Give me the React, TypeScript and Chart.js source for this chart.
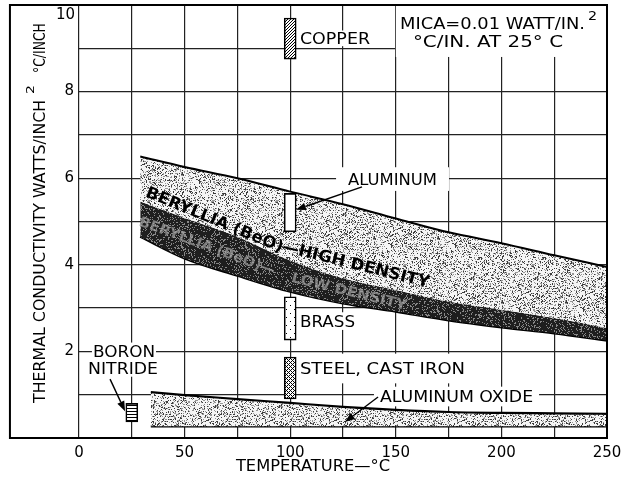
import React, { useEffect, useRef } from 'react';
import { Chart, registerables } from 'chart.js';

Chart.register(...registerables);

// ---------------- data ----------------
const beoTemps = [29, 50, 75, 100, 125, 150, 175, 200, 225, 250];
const beoHighTop = [6.5, 6.26, 6.0, 5.69, 5.4, 5.07, 4.75, 4.5, 4.22, 3.95];
const beoLowTop = [5.46, 5.08, 4.65, 4.1, 3.69, 3.42, 3.15, 2.96, 2.77, 2.54];
const beoLowBottom = [4.65, 4.15, 3.75, 3.38, 3.11, 2.92, 2.72, 2.56, 2.42, 2.25];

const aloxTemps = [34, 50, 75, 100, 125, 150, 175, 200, 225, 250];
const aloxTop = [1.06, 0.99, 0.9, 0.81, 0.72, 0.65, 0.6, 0.58, 0.57, 0.56];
const aloxBottom = [0.27, 0.27, 0.27, 0.27, 0.27, 0.27, 0.27, 0.27, 0.27, 0.27];

const metalNames = ['COPPER', 'ALUMINUM', 'BRASS', 'STEEL, CAST IRON', 'BORON NITRIDE'];
const metalTemps = [100, 100, 100, 100, 25];
const metalLow = [8.75, 4.76, 2.26, 0.9, 0.37];
const metalHigh = [9.7, 5.65, 3.26, 1.87, 0.8];
const metalFills = ['hatch', 'plain', 'dots', 'cross', 'stripes'];

const xMin = 0;
const xMax = 250;
const xStep = 25;
const xLabelStep = 50;
const yMin = 0;
const yMax = 10;
const yStep = 1;
const yLabelStep = 2;
const frameLeft = -32.7;

// annotations (data coordinates)
const plainLabels = [
  { text: 'COPPER', x0: 104.6, x1: 137.8, y: 9.23, px: 3, py: 2, size: 16 },
  { text: 'MICA=0.01 WATT/IN.', x0: 152.0, x1: 239.6, y: 9.57, px: 0, py: 0, size: 16 },
  { text: '2', x0: 241.0, x1: 245.3, y: 9.75, px: 0, py: 0, size: 12 },
  { text: '°C/IN. AT 25° C', x0: 158.1, x1: 229.2, y: 9.16, px: 0, py: 0, size: 16 },
  { text: 'ALUMINUM', x0: 127.4, x1: 169.5, y: 5.98, px: 12, py: 6, size: 16 },
  { text: 'BRASS', x0: 104.6, x1: 130.7, y: 2.7, px: 4, py: 3, size: 16 },
  { text: 'STEEL, CAST IRON', x0: 104.6, x1: 182.8, y: 1.605, px: 4, py: 9, size: 16 },
  { text: 'ALUMINUM OXIDE', x0: 142.5, x1: 215.0, y: 0.958, px: 6, py: 4, size: 16 },
  { text: 'BORON', x0: 6.6, x1: 36.0, y: 2.0, px: 1, py: 3, size: 16 },
  { text: 'NITRIDE', x0: 4.3, x1: 37.4, y: 1.62, px: 1, py: 3, size: 16 },
];
const whiteBlock = { x0: 150, x1: 250, y0: 8.8, y1: 10 };

const bandLabels = [
  { text: 'BERYLLIA (BeO)', x: 64.4, y: 5.06, angle: 22.4, width: 147, size: 16, color: '#000' },
  { text: '—HIGH DENSITY', x: 131.2, y: 4.03, angle: 14, width: 151, size: 16, color: '#000' },
  { text: 'BERYLLIA (BeO)—', x: 60.8, y: 4.45, angle: 20.3, width: 144, size: 14, color: 'rgba(165,165,165,0.7)' },
  { text: 'LOW DENSITY', x: 128, y: 3.4, angle: 13.8, width: 118, size: 14, color: 'rgba(165,165,165,0.7)' },
];

const arrows = [
  { from: [134.0, 5.8], to: [102.7, 5.27] },
  { from: [141.6, 0.947], to: [125.9, 0.37] },
  { from: [14.7, 1.36], to: [21.8, 0.62] },
];

const xTitle = { text: 'TEMPERATURE—°C', x0: 74.3, x1: 147.3, y: -0.647 };
const yTitleX = -19;
const yTitleSupX = -23.3;
const yTitleParts = [
  { text: 'THERMAL CONDUCTIVITY WATTS/INCH', y0: 0.81, y1: 7.81, sup: false },
  { text: '2', y0: 7.945, y1: 8.15, sup: true },
  { text: '°C/INCH', y0: 8.43, y1: 9.58, sup: false },
];

const FONT = '"DejaVu Sans", sans-serif';
const CAP = 0.73;

// ---------------- helpers ----------------
function hash(x: number, y: number, s: number) {
  let h = (Math.imul(x, 374761393) + Math.imul(y, 668265263) + Math.imul(s, 1442695041)) | 0;
  h = Math.imul(h ^ (h >>> 13), 1274126177);
  h ^= h >>> 16;
  return (h >>> 0) / 4294967296;
}

function makePattern(kind: string): CanvasPattern {
  const size = kind === 'light' || kind === 'dark' ? 64 : kind === 'dots' ? 8 : kind === 'cross' ? 8 : 6;
  const c = document.createElement('canvas');
  c.width = size;
  c.height = size;
  const g = c.getContext('2d')!;
  const img = g.createImageData(size, size);
  for (let y = 0; y < size; y++) {
    for (let x = 0; x < size; x++) {
      let v = 255;
      if (kind === 'light') {
        const h = hash(x, y, 1);
        v = h < 0.14 ? 60 : h < 0.3 ? 150 : 245;
      } else if (kind === 'dark') v = hash(x, y, 2) < 0.2 ? 135 : 30;
      else if (kind === 'hatch') v = (x + y) % 3 === 0 ? 0 : 255;
      else if (kind === 'cross') v = (x + y) % 4 === 0 || (x - y + 64) % 4 === 0 ? 0 : 255;
      else if (kind === 'stripes') v = y % 3 === 0 ? 0 : 255;
      else if (kind === 'dots') v = (x === 2 && y === 1) || (x === 6 && y === 5) ? 0 : 255;
      const i = (y * size + x) * 4;
      img.data[i] = v;
      img.data[i + 1] = v;
      img.data[i + 2] = v;
      img.data[i + 3] = 255;
    }
  }
  g.putImageData(img, 0, 0);
  return g.createPattern(c, 'repeat')!;
}

function fitText(ctx: CanvasRenderingContext2D, text: string, left: number, right: number, cy: number, size: number, weight = 'normal', color = '#000') {
  ctx.save();
  ctx.font = `${weight} ${size}px ${FONT}`;
  const w = ctx.measureText(text).width;
  ctx.translate(left, cy + (size * CAP) / 2);
  ctx.scale((right - left) / w, 1);
  ctx.fillStyle = color;
  ctx.textAlign = 'left';
  ctx.textBaseline = 'alphabetic';
  ctx.fillText(text, 0, 0);
  ctx.restore();
}

function rotText(ctx: CanvasRenderingContext2D, text: string, cx: number, cy: number, ang: number, width: number, size: number, color: string) {
  ctx.save();
  ctx.font = `bold ${size}px ${FONT}`;
  const w = ctx.measureText(text).width;
  ctx.translate(cx, cy);
  ctx.rotate((ang * Math.PI) / 180);
  ctx.scale(width / w, 1);
  ctx.fillStyle = color;
  ctx.textAlign = 'center';
  ctx.textBaseline = 'alphabetic';
  ctx.fillText(text, 0, (size * CAP) / 2);
  ctx.restore();
}

const annotations = {
  id: 'annotations',
  beforeDatasetsDraw(chart: any) {
    const { ctx, scales } = chart;
    const xs = scales.x;
    const ys = scales.y;
    ctx.save();
    ctx.fillStyle = '#fff';
    for (const l of plainLabels) {
      if (l.px === 0 && l.py === 0) continue;
      const left = xs.getPixelForValue(l.x0) - l.px;
      const right = xs.getPixelForValue(l.x1) + l.px;
      const cy = ys.getPixelForValue(l.y);
      const h = (l.size * CAP) / 2 + l.py;
      ctx.fillRect(left, cy - h, right - left, 2 * h);
    }
    const bx0 = xs.getPixelForValue(whiteBlock.x0);
    const bx1 = xs.getPixelForValue(whiteBlock.x1);
    const by0 = ys.getPixelForValue(whiteBlock.y1);
    const by1 = ys.getPixelForValue(whiteBlock.y0);
    ctx.fillRect(bx0, by0, bx1 - bx0, by1 - by0);
    ctx.restore();
  },
  afterDatasetsDraw(chart: any) {
    const { ctx, scales } = chart;
    const xs = scales.x;
    const ys = scales.y;
    for (const l of plainLabels) {
      fitText(ctx, l.text, xs.getPixelForValue(l.x0), xs.getPixelForValue(l.x1), ys.getPixelForValue(l.y), l.size);
    }
    for (const b of bandLabels) {
      rotText(ctx, b.text, xs.getPixelForValue(b.x), ys.getPixelForValue(b.y), b.angle, b.width, b.size, b.color);
    }
    ctx.save();
    ctx.strokeStyle = '#000';
    ctx.fillStyle = '#000';
    ctx.lineWidth = 1.4;
    for (const a of arrows) {
      const x0 = xs.getPixelForValue(a.from[0]);
      const y0 = ys.getPixelForValue(a.from[1]);
      const x1 = xs.getPixelForValue(a.to[0]);
      const y1 = ys.getPixelForValue(a.to[1]);
      const ang = Math.atan2(y1 - y0, x1 - x0);
      const L = 10;
      const W = 3.8;
      const bxp = x1 - L * Math.cos(ang);
      const byp = y1 - L * Math.sin(ang);
      ctx.beginPath();
      ctx.moveTo(x0, y0);
      ctx.lineTo(bxp, byp);
      ctx.stroke();
      ctx.beginPath();
      ctx.moveTo(x1, y1);
      ctx.lineTo(bxp + W * Math.sin(ang), byp - W * Math.cos(ang));
      ctx.lineTo(bxp - W * Math.sin(ang), byp + W * Math.cos(ang));
      ctx.closePath();
      ctx.fill();
    }
    ctx.restore();
  },
  afterDraw(chart: any) {
    const { ctx, scales, chartArea } = chart;
    const xs = scales.x;
    const ys = scales.y;
    // frame
    ctx.save();
    ctx.strokeStyle = '#000';
    ctx.lineWidth = 2;
    const fl = xs.getPixelForValue(frameLeft);
    ctx.strokeRect(fl, chartArea.top, chartArea.right - fl, chartArea.bottom - chartArea.top);
    ctx.restore();
    // top y tick label
    ctx.save();
    ctx.font = `15px ${FONT}`;
    ctx.fillStyle = '#000';
    ctx.textAlign = 'right';
    ctx.textBaseline = 'alphabetic';
    ctx.fillText(String(yMax), chartArea.left - 4, ys.getPixelForValue(9.8) + (15 * CAP) / 2);
    ctx.restore();
    // x title
    fitText(ctx, xTitle.text, xs.getPixelForValue(xTitle.x0), xs.getPixelForValue(xTitle.x1), ys.getPixelForValue(xTitle.y), 15);
    // y title (rotated)
    ctx.save();
    const cx = xs.getPixelForValue(yTitleX);
    const supX = xs.getPixelForValue(yTitleSupX);
    ctx.translate(cx, 0);
    ctx.rotate(-Math.PI / 2);
    for (const p of yTitleParts) {
      const left = -ys.getPixelForValue(p.y0);
      const right = -ys.getPixelForValue(p.y1);
      fitText(ctx, p.text, left, right, p.sup ? supX - cx : 0, p.sup ? 11 : 16);
    }
    ctx.restore();
  },
};

export default function App() {
  const ref = useRef<HTMLCanvasElement>(null);
  useEffect(() => {
    const canvas = ref.current!;
    const pats: Record<string, CanvasPattern | string> = {
      light: makePattern('light'),
      dark: makePattern('dark'),
      hatch: makePattern('hatch'),
      cross: makePattern('cross'),
      stripes: makePattern('stripes'),
      dots: makePattern('dots'),
      plain: '#ffffff',
    };
    const xy = (xsArr: number[], ysArr: number[]) => xsArr.map((x, i) => ({ x, y: ysArr[i] }));
    const lineBase = { pointRadius: 0, cubicInterpolationMode: 'monotone', order: 1 };
    const chart = new Chart(canvas, {
      type: 'line',
      data: {
        datasets: [
          {
            type: 'bar',
            label: 'metals',
            data: metalTemps.map((x, i) => ({ x, y: [metalLow[i], metalHigh[i]], name: metalNames[i] })),
            backgroundColor: metalFills.map((f) => pats[f]),
            borderColor: '#000',
            borderWidth: 1.6,
            borderSkipped: false,
            barThickness: 12,
            grouped: false,
            order: 0,
          } as any,
          { ...lineBase, label: 'BeO high', data: xy(beoTemps, beoHighTop), borderColor: '#000', borderWidth: 2, fill: '+1', backgroundColor: pats.light } as any,
          { ...lineBase, label: 'BeO low top', data: xy(beoTemps, beoLowTop), borderColor: 'rgba(0,0,0,0)', borderWidth: 0, fill: '+1', backgroundColor: pats.dark } as any,
          { ...lineBase, label: 'BeO low bottom', data: xy(beoTemps, beoLowBottom), borderColor: '#000', borderWidth: 2.5, fill: false } as any,
          { ...lineBase, label: 'Al2O3 top', data: xy(aloxTemps, aloxTop), borderColor: '#000', borderWidth: 2.2, fill: '+1', backgroundColor: pats.light } as any,
          { ...lineBase, label: 'Al2O3 bottom', data: xy(aloxTemps, aloxBottom), borderColor: '#000', borderWidth: 2.2, fill: false } as any,
        ],
      },
      options: {
        animation: false,
        responsive: false,
        devicePixelRatio: 1,
        layout: { padding: { left: 0, top: 5, right: 15, bottom: 0 } },
        plugins: { legend: { display: false }, tooltip: { enabled: false } },
        scales: {
          x: {
            type: 'linear',
            min: xMin,
            max: xMax,
            offset: false,
            grid: { color: '#222', lineWidth: 1.2, drawTicks: false, offset: false },
            border: { display: false },
            ticks: {
              stepSize: xStep,
              autoSkip: false,
              maxRotation: 0,
              padding: 6,
              color: '#000',
              font: { family: FONT, size: 15 },
              callback: (v: any) => (Number(v) % xLabelStep === 0 ? String(v) : ''),
            },
            afterFit: (s: any) => {
              s.height = 39;
              s.paddingLeft = 0;
              s.paddingRight = 0;
            },
          },
          y: {
            type: 'linear',
            min: yMin,
            max: yMax,
            offset: false,
            grid: { color: '#222', lineWidth: 1.2, drawTicks: false, offset: false },
            border: { display: false },
            ticks: {
              stepSize: yStep,
              autoSkip: false,
              padding: 5,
              color: '#000',
              font: { family: FONT, size: 15 },
              callback: (v: any) => (Number(v) % yLabelStep === 0 && v > yMin && v < yMax ? String(v) : ''),
            },
            afterFit: (s: any) => {
              s.width = 79;
              s.paddingTop = 0;
              s.paddingBottom = 0;
            },
          },
        },
      } as any,
      plugins: [annotations],
    });
    return () => chart.destroy();
  }, []);
  return (
    <div style={{ position: 'absolute', left: 0, top: 0, width: 622, height: 477, background: '#fff' }}>
      <canvas ref={ref} width={622} height={477} style={{ display: 'block' }} />
    </div>
  );
}
